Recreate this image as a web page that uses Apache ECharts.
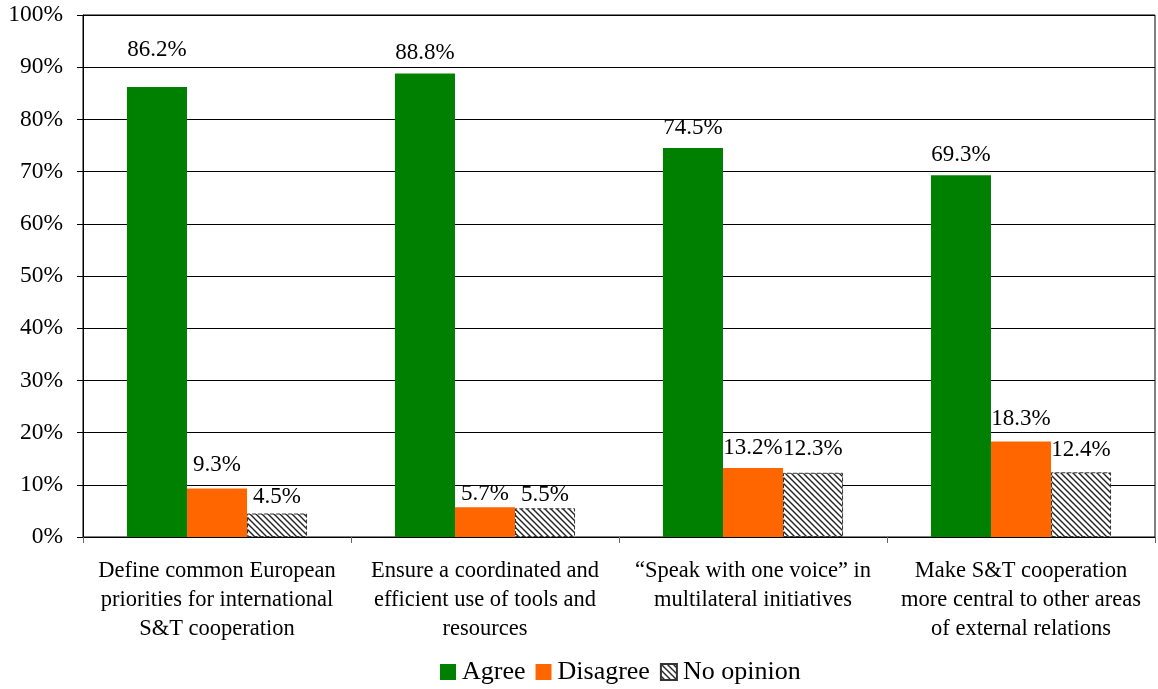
<!DOCTYPE html>
<html>
<head>
<meta charset="utf-8">
<script src="https://cdn.jsdelivr.net/npm/echarts@6/dist/echarts.min.js"></script>
<style>html,body{margin:0;padding:0;background:#fff}#c{width:1158px;height:689px}</style>
</head>
<body>
<div id="c"></div>
<script>
const categories = [
  "Define common European\npriorities for international\nS&T cooperation",
  "Ensure a coordinated and\nefficient use of tools and\nresources",
  "\u201cSpeak with one voice\u201d in\nmultilateral initiatives",
  "Make S&T cooperation\nmore central to other areas\nof external relations"
];
const agree = [86.2, 88.8, 74.5, 69.3];
const disagree = [9.3, 5.7, 13.2, 18.3];
const noOpinion = [4.5, 5.5, 12.3, 12.4];
const seriesNames = ["Agree", "Disagree", "No opinion"];

function hatch() {
  const c = document.createElement('canvas');
  c.width = 6; c.height = 6;
  const g = c.getContext('2d');
  g.fillStyle = '#fff'; g.fillRect(0, 0, 6, 6);
  g.strokeStyle = '#222'; g.lineWidth = 1.4;
  g.beginPath();
  for (let k = -6; k <= 12; k += 6) {
    g.moveTo(k - 1, -1); g.lineTo(k + 7, 7);
  }
  g.stroke();
  return c;
}
const hatchFill = { image: hatch(), repeat: 'repeat' };
const FONT = "'Liberation Serif', 'Times New Roman', serif";

function mkData(arr, special) {
  return arr.map((v, i) => {
    const d = { value: v };
    if (special && special[i] != null) d.label = { distance: special[i] };
    return d;
  });
}

const chart = echarts.init(document.getElementById('c'));
const labelCfg = {
  show: true, position: 'top', distance: 9,
  formatter: p => p.value.toFixed(1) + '%',
  fontFamily: FONT, fontSize: 23, color: '#000'
};
chart.setOption({
  animation: false,
  textStyle: { fontFamily: FONT },
  grid: { left: 83, right: 3, top: 15, bottom: 152, show: true, borderColor: '#000', borderWidth: 1 },
  legend: {
    bottom: -1, left: 435, itemWidth: 16, itemHeight: 16, itemGap: 10,
    textStyle: { fontFamily: FONT, fontSize: 26, color: '#000', padding: [0, 0, 0, 1] },
    data: seriesNames.map(n => ({ name: n, icon: 'rect' }))
  },
  xAxis: {
    type: 'category', data: categories,
    axisLine: { lineStyle: { color: '#000', width: 1 } },
    axisTick: { show: true, length: 6, lineStyle: { color: '#666' } },
    axisLabel: { fontFamily: FONT, fontSize: 22.5, color: '#000', lineHeight: 29, margin: 20, interval: 0 }
  },
  yAxis: {
    type: 'value', min: 0, max: 100, interval: 10,
    axisLine: { show: true, lineStyle: { color: '#000' } },
    axisTick: { show: true, length: 6, lineStyle: { color: '#000' } },
    axisLabel: { formatter: '{value}%', fontFamily: FONT, fontSize: 23.5, color: '#000', margin: 20 },
    splitLine: { lineStyle: { color: '#000', width: 1 } }
  },
  series: [
    { name: seriesNames[0], type: 'bar', data: mkData(agree, [26, null, null, null]), barGap: '0%', barCategoryGap: '32.8%',
      itemStyle: { color: '#008000' }, label: labelCfg },
    { name: seriesNames[1], type: 'bar', data: mkData(disagree, [12, 2, null, 11]),
      itemStyle: { color: '#FF6600' }, label: labelCfg },
    { name: seriesNames[2], type: 'bar', data: mkData(noOpinion, [5, 2, 12, 11]),
      itemStyle: { color: hatchFill, borderColor: '#333', borderWidth: 1, borderType: 'dashed' }, label: labelCfg }
  ]
});
</script>
</body>
</html>
